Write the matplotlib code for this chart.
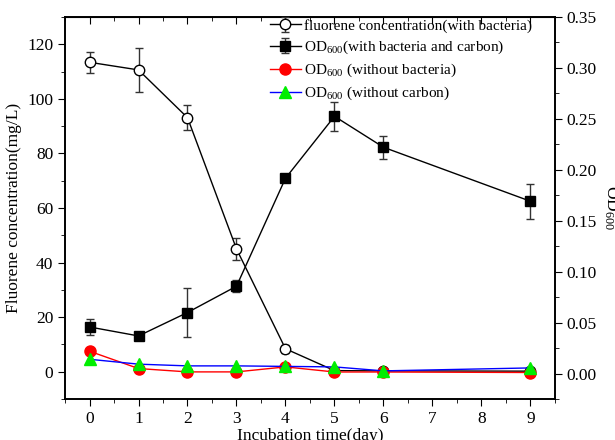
import matplotlib
matplotlib.use("Agg")
import matplotlib.pyplot as plt
from matplotlib.ticker import MultipleLocator

plt.rcParams["font.family"] = ["Liberation Serif", "DejaVu Serif"]
plt.rcParams["mathtext.fontset"] = "custom"
plt.rcParams["mathtext.rm"] = "Liberation Serif"
plt.rcParams["mathtext.it"] = "Liberation Serif:italic"

days = [0, 1, 2, 3, 4, 5, 6, 9]

fluorene = [113.4, 110.6, 93.1, 45.0, 8.4, 0.4, 0.3, 0.2]
fluorene_err = [3.9, 8.0, 4.5, 4.0, 1.5, 0.3, 0.2, 0.2]

od_bact_carbon = [0.0457, 0.0369, 0.0599, 0.0857, 0.1917, 0.2525, 0.2221, 0.1691]
od_bact_carbon_err = [0.0075, 0.002, 0.0237, 0.0057, 0.003, 0.014, 0.0113, 0.0174]

od_no_bacteria = [0.0219, 0.0049, 0.0016, 0.0016, 0.0065, 0.0015, 0.0015, 0.0010]
od_no_carbon = [0.0140, 0.0092, 0.0075, 0.0075, 0.0070, 0.0065, 0.0026, 0.0055]

fig = plt.figure(figsize=(6.15, 4.4), dpi=100)
ax = fig.add_axes([0.1057, 0.0932, 0.7967, 0.8682])
ax2 = ax.twinx()

h1 = ax.errorbar(days, fluorene, yerr=fluorene_err, color="black", lw=1,
                 marker="o", ms=7.5, mfc="white", mec="black", mew=1,
                 capsize=3, elinewidth=1, ecolor="#333333")
h2 = ax2.errorbar(days, od_bact_carbon, yerr=od_bact_carbon_err, color="black", lw=1,
                  marker="s", ms=7, mfc="black", mec="black",
                  capsize=3, elinewidth=1, ecolor="#333333")
h3, = ax2.plot(days, od_no_bacteria, color="red", lw=1, marker="o", ms=8,
               mfc="red", mec="red")
h4, = ax2.plot(days, od_no_carbon, color="blue", lw=1, marker="^", ms=8.5,
               mfc="#00ee00", mec="#00ee00")

ax.set_xlim(-0.5, 9.5)
ax.set_ylim(-10, 130)
ax2.set_ylim(-0.025, 0.35)

ax.set_xticks(range(10))
ax.xaxis.set_minor_locator(MultipleLocator(0.5))
ax.set_yticks([0, 20, 40, 60, 80, 100, 120])
ax.yaxis.set_minor_locator(MultipleLocator(10))
ax2.set_yticks([0.0, 0.05, 0.10, 0.15, 0.20, 0.25, 0.30, 0.35])
ax2.set_yticklabels([f"{v:.2f}" for v in ax2.get_yticks()])
ax2.yaxis.set_minor_locator(MultipleLocator(0.025))

ax.tick_params(axis="x", which="both", direction="out", top=False, labelsize=12.5)
ax.tick_params(axis="x", which="major", length=5)
ax.tick_params(axis="x", which="minor", length=3)
ax.tick_params(axis="y", which="major", direction="out", length=5, labelsize=12.5)
ax.tick_params(axis="y", which="minor", direction="out", length=3)
ax2.tick_params(axis="y", which="major", direction="out", length=5, labelsize=12.5)
ax2.tick_params(axis="y", which="minor", direction="out", length=3)
for a in (ax, ax2):
    for s in a.spines.values():
        s.set_linewidth(1.2)

# top ticks point into the plot
secx = ax.secondary_xaxis("top")
secx.set_xticks(range(10))
secx.xaxis.set_minor_locator(MultipleLocator(0.5))
secx.tick_params(which="both", direction="in", labeltop=False)
secx.tick_params(which="major", length=5)
secx.tick_params(which="minor", length=3)

ax.set_xlabel("Incubation time(day)", fontsize=12.5, labelpad=1)
ax.set_ylabel("Fluorene concentration(mg/L)", fontsize=12.5)
ax2.set_ylabel("OD$_{600}$", fontsize=12.5, rotation=270, labelpad=16)

ax2.legend([h1, h2, h3, h4],
           ["fluorene concentration(with bacteria)",
            "OD$_{600}$(with bacteria and carbon)",
            "OD$_{600}$ (without bacteria)",
            "OD$_{600}$ (without carbon)"],
           loc="upper left", bbox_to_anchor=(270 / 615, 1 - 19 / 440),
           bbox_transform=fig.transFigure, frameon=False, fontsize=11,
           handlelength=2.0, handletextpad=0.25, labelspacing=0.38,
           borderaxespad=0, borderpad=0)

fig.savefig("out.png", dpi=100)
